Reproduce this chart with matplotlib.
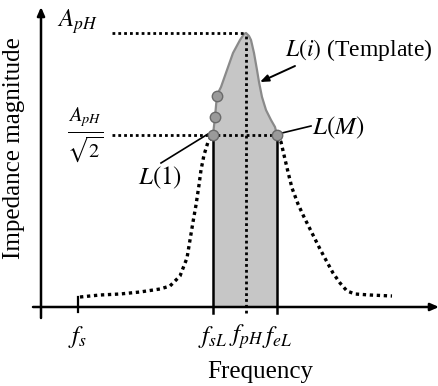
import matplotlib
matplotlib.use("Agg")
import matplotlib.pyplot as plt
import numpy as np

plt.rcParams['font.family'] = ['Liberation Serif', 'DejaVu Serif']
plt.rcParams['mathtext.fontset'] = 'stix'

# ---- data (arbitrary units) ----
freq_left = [39, 59, 79, 99, 119, 129, 139, 146, 149, 152, 155, 158, 160, 163, 167, 172]
mag_left = [10, 12, 13, 15, 18, 21, 31, 49, 67, 85, 102, 122, 137, 152, 165, 172]

freq_tmpl = [172, 173, 174, 175, 176, 180, 186, 192, 199, 203, 205, 208, 210, 213, 216, 218, 221, 225, 230, 234, 236]
mag_tmpl = [172, 181, 190, 201, 212, 220, 237, 254, 267, 273, 274, 271, 267, 254, 237, 225, 210, 197, 187, 180, 172]

freq_right = [236, 240, 243, 247, 251, 257, 263, 271, 279, 286, 292, 299, 306, 314, 329, 351]
mag_right = [172, 165, 152, 135, 119, 103, 90, 74, 58, 45, 34, 24, 16, 13, 12, 11]

pt_freq = [172, 174, 176, 236]
pt_mag = [172, 190, 211, 172]

f_s, f_sL, f_pH, f_eL = 37, 172, 205, 236
A_pH = 274
A_half = 172
tick_pos = [f_s, f_sL, f_pH, f_eL]
tick_labels = [r'$f_s$', r'$f_{sL}$', r'$f_{pH}$', r'$f_{eL}$']

fig = plt.figure(figsize=(4.39, 3.86), dpi=100)
ax = fig.add_axes([0, 0, 1, 1])
ax.set_xlim(-41, 398)
ax.set_ylim(-79, 307)
ax.axis('off')

dot = dict(color='black', linewidth=2.0, linestyle=(0, (1, 1.1)), dash_capstyle='butt')

# shaded rectangle under template
ax.fill_between([f_sL, f_eL], [0, 0], [A_half, A_half], color='#c6c6c6', lw=0, zorder=1)
# template region
ax.fill(freq_tmpl + [f_eL, f_sL], mag_tmpl + [A_half - 1, A_half - 1], color='#c6c6c6',
        lw=0, zorder=1)
ax.plot(freq_tmpl, mag_tmpl, color='#8a8a8a', lw=1.6, zorder=2)

# solid verticals
ax.plot([f_sL, f_sL], [-6, A_half], color='black', lw=1.8, zorder=3)
ax.plot([f_eL, f_eL], [-6, A_half], color='black', lw=1.8, zorder=3)

# dotted guides
ax.plot([71, f_pH], [A_pH, A_pH], **dot, zorder=3)
ax.plot([71, f_eL], [A_half, A_half], **dot, zorder=3)
ax.plot([f_pH, f_pH], [-6, A_pH], **dot, zorder=3)

# dotted curve
ax.plot(freq_left, mag_left, **dict(dot, linewidth=2.4), zorder=3)
ax.plot(freq_right, mag_right, **dict(dot, linewidth=2.4), zorder=3)
ax.plot([f_s, f_s], [-5, mag_left[0]], color='black', lw=1.6, zorder=3)

# markers
ax.plot(pt_freq, pt_mag, 'o', ms=7.5, mfc='#9a9a9a', mec='#6a6a6a', mew=1.0, zorder=5)

# axes with arrows
ax.annotate('', xy=(398, 0), xytext=(-8, 0),
            arrowprops=dict(arrowstyle='-|>,head_length=0.5,head_width=0.22', color='black', lw=1.8,
                            shrinkA=0, shrinkB=0))
ax.annotate('', xy=(0, 300), xytext=(0, -11),
            arrowprops=dict(arrowstyle='-|>,head_length=0.5,head_width=0.22', color='black', lw=1.8,
                            shrinkA=0, shrinkB=0))

# tick labels
for p, lab in zip(tick_pos, tick_labels):
    ax.text(p, -30, lab, ha='center', va='center', fontsize=18)

ax.text(219, -65, 'Frequency', ha='center', va='center', fontsize=18)
ax.text(-27, 159, 'Impedance magnitude', ha='center', va='center', rotation=90, fontsize=18)

ax.text(36, 285, r'$A_{pH}$', ha='center', va='center', fontsize=18)
ax.text(44, 172, r'$\frac{A_{pH}}{\sqrt{2}}$', ha='center', va='center', fontsize=21)

ax.text(119, 129, r'$L(1)$', ha='center', va='center', fontsize=18)
ax.plot([120, 167], [144, 173], color='black', lw=1.2, zorder=4)
ax.text(297, 179, r'$L(M)$', ha='center', va='center', fontsize=18)
ax.plot([270, 241], [181, 174], color='black', lw=1.2, zorder=4)
ax.text(318, 257, r'$L(i)$ (Template)', ha='center', va='center', fontsize=17)
ax.annotate('', xy=(219, 225), xytext=(254, 241),
            arrowprops=dict(arrowstyle='-|>,head_length=0.5,head_width=0.2', color='black', lw=1.4,
                            shrinkA=0, shrinkB=0))

fig.savefig('out.png', dpi=100)
